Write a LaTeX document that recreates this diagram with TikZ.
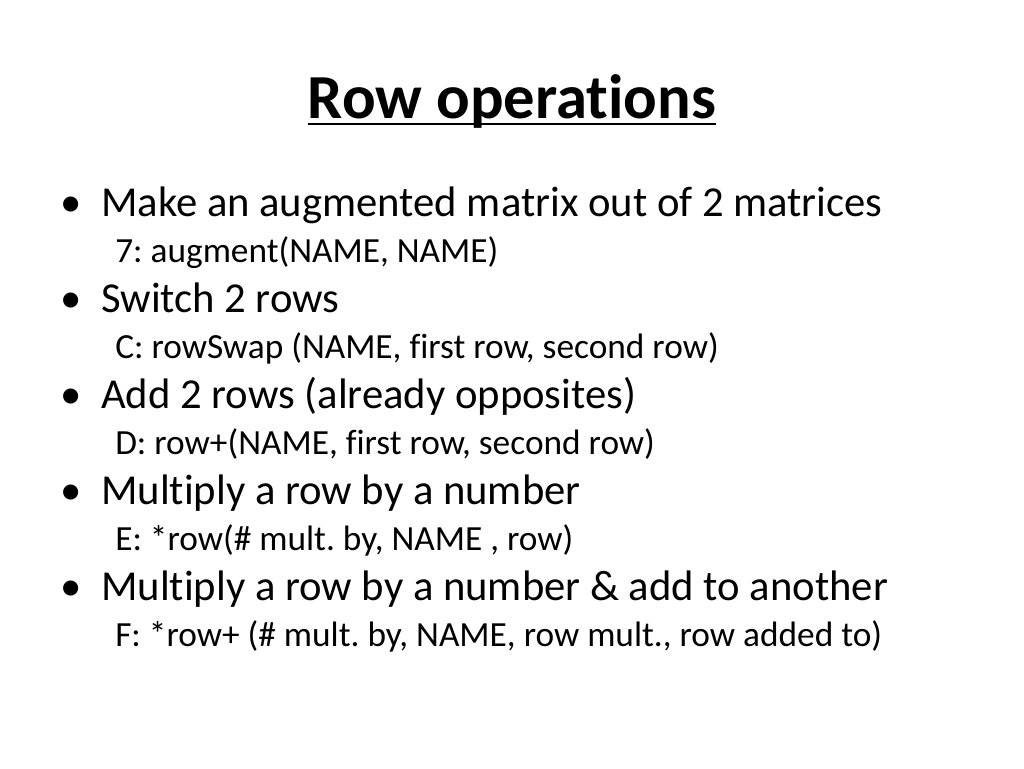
\documentclass[tikz,border=0pt]{standalone}
\usepackage{fontspec}
\setmainfont{Carlito}[Ligatures=NoCommon]
\frenchspacing
\begin{document}
\begin{tikzpicture}[x=0.75pt,y=-0.75pt,
    item/.style={anchor=base west, inner sep=0pt, font=\fontsize{32}{36}\selectfont},
    sub/.style={anchor=base west, inner sep=0pt, font=\fontsize{26.5}{30}\selectfont}]
    \useasboundingbox (0,0) rectangle (1024,768);

    %title
    \node[anchor=base, inner sep=0pt, font=\fontsize{47}{52}\selectfont\bfseries] (title) at (512,118) {Row operations};
    \draw[line width=2.2pt] (title.base west |- 0,124) -- (title.base east |- 0,124);

    \foreach \y/\main/\code [count=\i] in {
        216/{Make an augmented matrix out of 2 matrices}/{7: augment(NAME, NAME)},
        312/{Switch 2 rows}/{C: rowSwap (NAME, first row, second row)},
        408/{Add 2 rows (already opposites)}/{D: row+(NAME, first row, second row)},
        504/{Multiply a row by a number}/{E: *row(\# mult. by, NAME , row)},
        600/{Multiply a row by a number \& add to another}/{F: *row+ (\# mult. by, NAME, row mult., row added to)}}{
      \node[item] (bullet\i) at (60,\y) {\textbullet};
      \node[item] (item\i) at (101,\y) {\main};
      \node[sub] (code\i) at (115,\y+46) {\code};
    }
\end{tikzpicture}
\end{document}
